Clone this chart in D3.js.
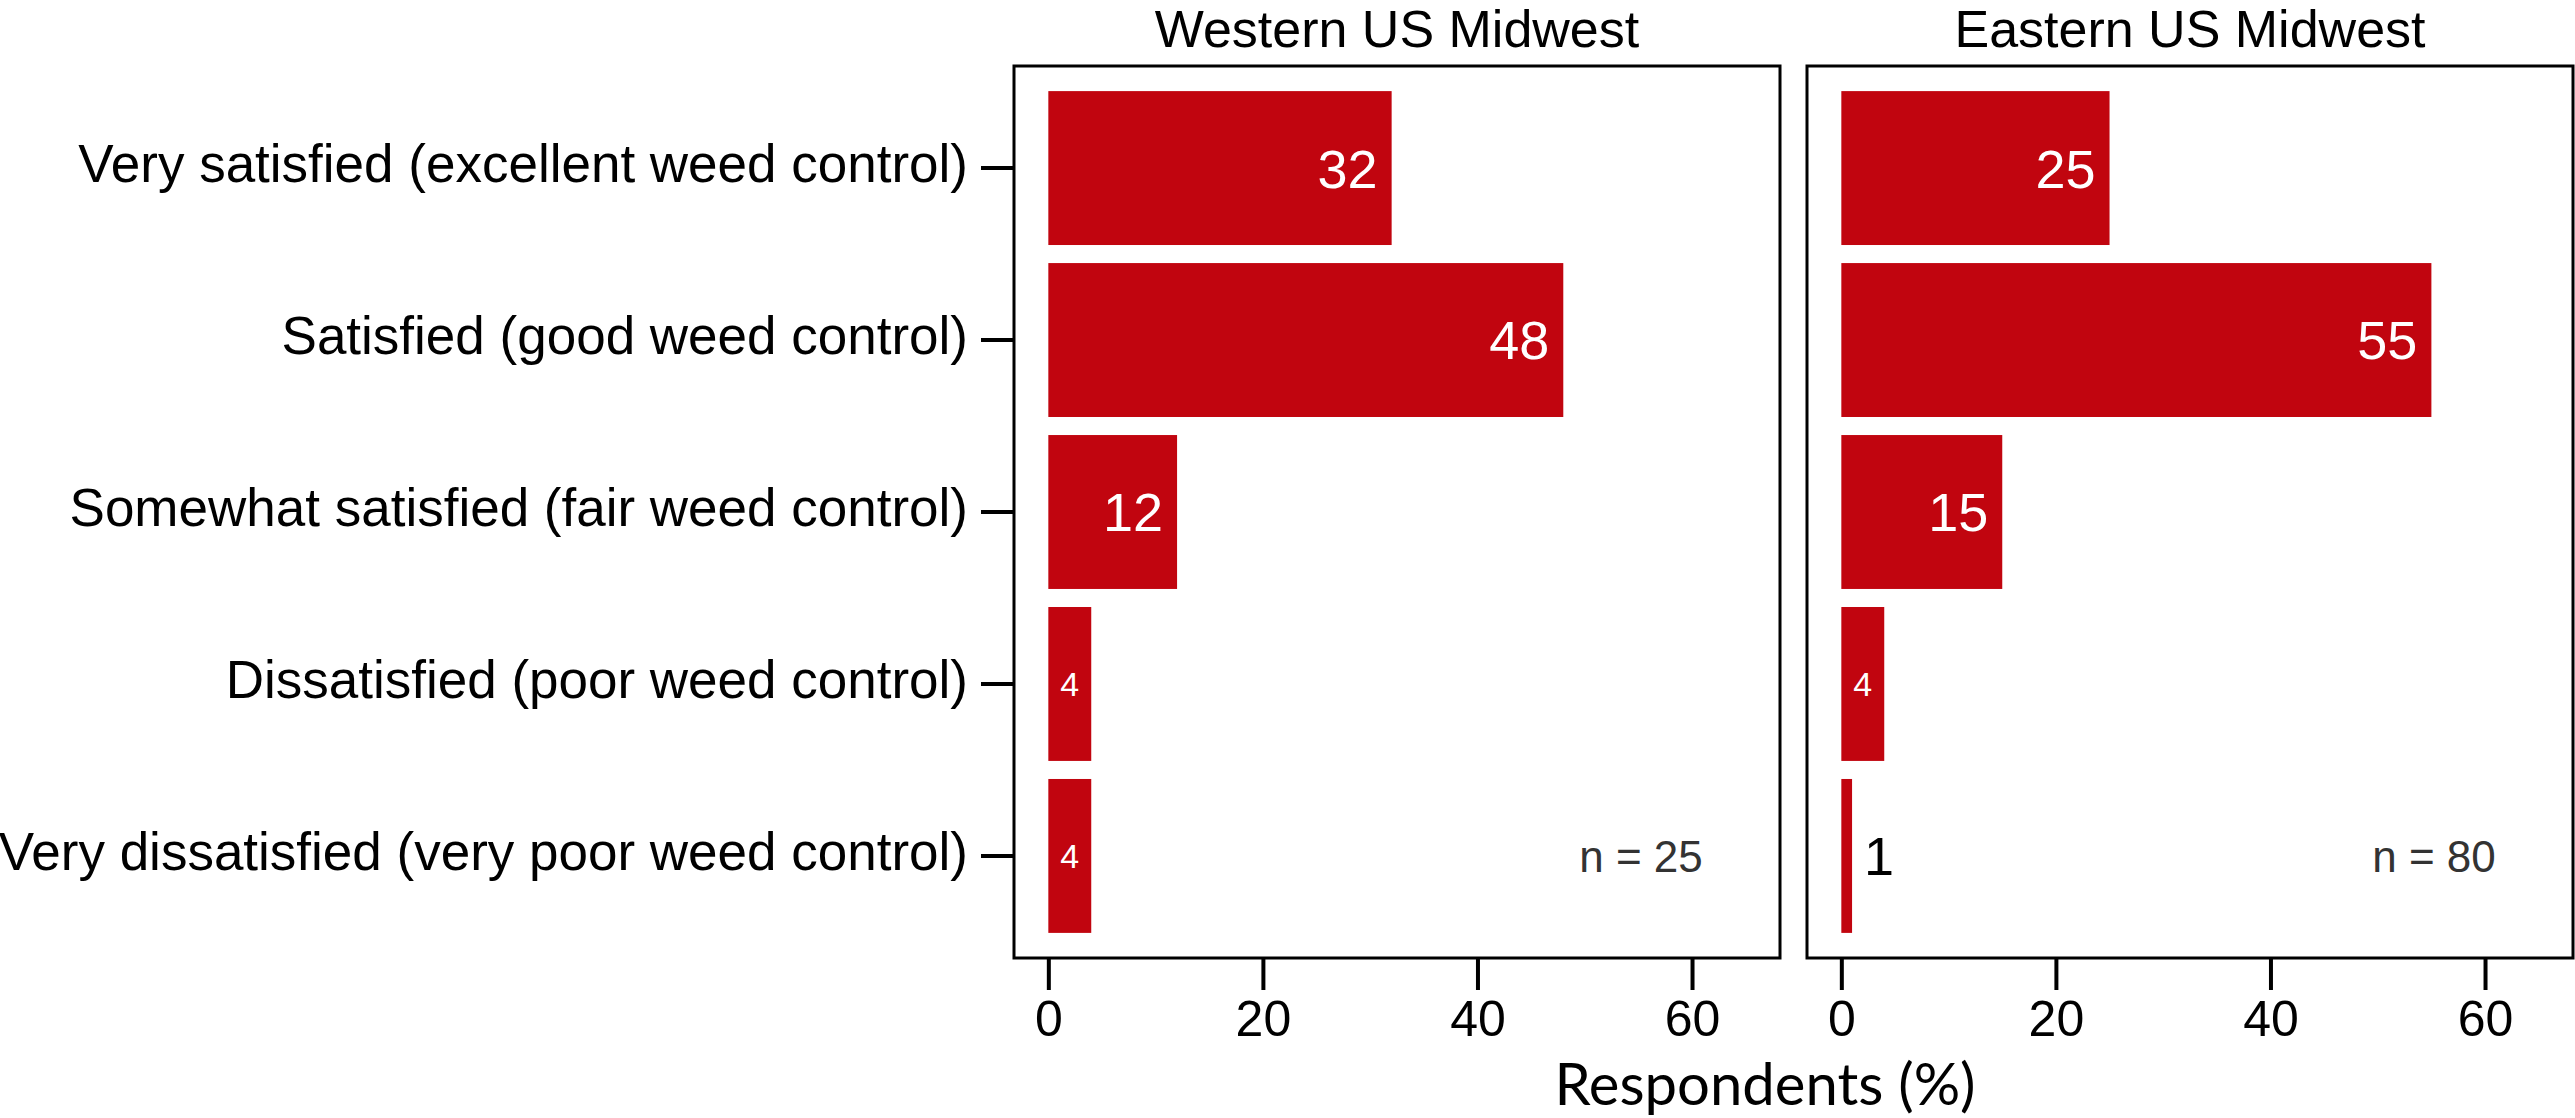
<!DOCTYPE html>
<html>
<head>
<meta charset="utf-8">
<script src="https://cdn.jsdelivr.net/npm/d3@7"></script>
<style>
    body { margin: 0; background: #fff; }
    svg { display: block; }
</style>
</head>
<body>
<script>
// Survey answers, top to bottom
const categories = [
    "Very satisfied (excellent weed control)",
    "Satisfied (good weed control)",
    "Somewhat satisfied (fair weed control)",
    "Dissatisfied (poor weed control)",
    "Very dissatisfied (very poor weed control)"
];
const regions = ["Western US Midwest", "Eastern US Midwest"];
const westernValues = [32, 48, 12, 4, 4];
const easternValues = [25, 55, 15, 4, 1];
const sampleSizes = [25, 80];
const xTicks = [0, 20, 40, 60];
const xLabel = "Respondents (%)";

const width = 2575;
const height = 1118;
const panelTop = 66;
const panelBottom = 958;
const panelLefts = [1014, 1807];
const panelWidth = 766;
const barColour = "#c1050f";
const mainFont = "'Liberation Sans', Arial, Helvetica, sans-serif";

const svg = d3.select("body").append("svg")
    .attr("width", width)
    .attr("height", height);

const yRange = d3.scaleBand()
    .domain(categories)
    .range([panelTop, panelBottom])
    .paddingInner(0.105)
    .paddingOuter(0.146);

const drawPanel = (left, title, values, n, showYAxis) => {
    const xRange = d3.scaleLinear().domain([-3.2, 68.2]).range([left, left + panelWidth]);
    const rows = categories.map((c, i) => ({category: c, value: values[i]}));
    const g = svg.append("g");

    // Title centred over the panel
    g.append("text")
        .attr("x", left + panelWidth / 2)
        .attr("y", 47)
        .attr("text-anchor", "middle")
        .style("font-family", mainFont)
        .style("font-size", "52px")
        .text(title);

    g.selectAll("rect.bar")
        .data(rows)
        .enter().append("rect")
        .attr("class", "bar")
        .attr("x", xRange(0))
        .attr("y", d => yRange(d.category))
        .attr("width", d => xRange(d.value) - xRange(0))
        .attr("height", yRange.bandwidth())
        .attr("fill", barColour);

    // Value labels: big white inside, small white centred for narrow bars, black outside for tiny ones
    g.selectAll("text.value")
        .data(rows)
        .enter().append("text")
        .attr("class", "value")
        .attr("x", d => d.value >= 10 ? xRange(d.value) - 14
            : d.value >= 2 ? (xRange(0) + xRange(d.value)) / 2
            : xRange(d.value) + 12)
        .attr("y", d => yRange(d.category) + yRange.bandwidth() / 2)
        .attr("dy", "0.36em")
        .attr("text-anchor", d => d.value >= 10 ? "end" : d.value >= 2 ? "middle" : "start")
        .attr("fill", d => d.value >= 2 ? "#fff" : "#000")
        .style("font-family", mainFont)
        .style("font-size", d => d.value >= 10 || d.value < 2 ? "54px" : "34px")
        .text(d => d.value);

    // Sample size note in the last row
    g.append("text")
        .attr("x", xRange(61))
        .attr("y", yRange(categories[categories.length - 1]) + yRange.bandwidth() / 2)
        .attr("dy", "0.36em")
        .attr("text-anchor", "end")
        .attr("fill", "#333")
        .style("font-family", mainFont)
        .style("font-size", "44px")
        .text("n = " + n);

    g.append("rect")
        .attr("x", left)
        .attr("y", panelTop)
        .attr("width", panelWidth)
        .attr("height", panelBottom - panelTop)
        .attr("fill", "none")
        .attr("stroke", "#000")
        .attr("stroke-width", 3);

    const xAxis = d3.axisBottom(xRange).tickValues(xTicks).tickSize(32).tickPadding(10);
    const xg = g.append("g")
        .attr("transform", "translate(0," + panelBottom + ")")
        .call(xAxis);
    xg.select(".domain").remove();
    xg.selectAll(".tick line").attr("stroke", "#000").attr("stroke-width", 4);
    xg.selectAll(".tick text")
        .attr("fill", "#000")
        .style("font-family", mainFont)
        .style("font-size", "50px");

    if (showYAxis) {
        const yAxis = d3.axisLeft(yRange).tickSize(34).tickPadding(13);
        const yg = g.append("g")
            .attr("transform", "translate(" + (left + 1) + ",0)")
            .call(yAxis);
        yg.select(".domain").remove();
        yg.selectAll(".tick line").attr("stroke", "#000").attr("stroke-width", 4);
        yg.selectAll(".tick text")
            .attr("fill", "#000")
            .attr("dy", "0.26em")
            .style("font-family", mainFont)
            .style("font-size", "53px");
    }
};

drawPanel(panelLefts[0], regions[0], westernValues, sampleSizes[0], true);
drawPanel(panelLefts[1], regions[1], easternValues, sampleSizes[1], false);

// Shared x axis label
svg.append("text")
    .attr("x", 1765)
    .attr("y", 1105)
    .attr("text-anchor", "middle")
    .style("font-family", "Lato, Calibri, sans-serif")
    .style("font-size", "58px")
    .text(xLabel);
</script>
</body>
</html>
